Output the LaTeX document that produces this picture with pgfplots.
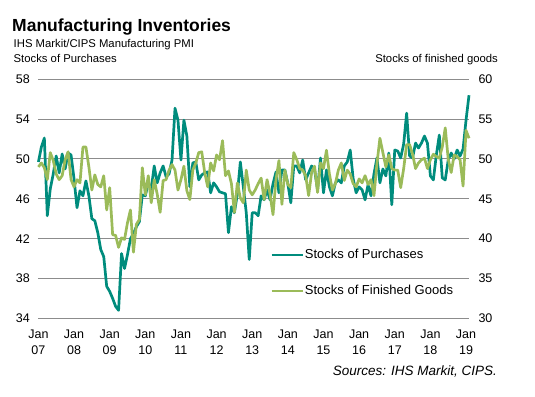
\documentclass[border=0pt]{standalone}
\usepackage{fontspec}
\setmainfont{Liberation Sans}
\usepackage{pgfplots}
\usepackage{pgfplotstable}
\pgfplotsset{compat=1.18}
\definecolor{tealc}{RGB}{0,140,125}
\definecolor{olivec}{RGB}{155,187,89}
\definecolor{gridc}{RGB}{140,140,140}
\pgfplotstableread{
m sp fg
0 49.7 49.0
1 51.2 49.5
2 52.1 48.9
3 44.3 47.4
4 47.0 50.8
5 48.5 49.8
6 50.3 48.1
7 48.6 47.4
8 50.5 47.9
9 49.0 49.9
10 50.6 50.9
11 50.4 47.4
12 48.0 46.5
13 45.1 47.4
14 46.8 47.0
15 46.3 51.5
16 47.8 51.5
17 46.3 49.0
18 44.0 46.1
19 43.8 48.0
20 42.6 46.8
21 40.9 46.5
22 40.2 47.9
23 37.2 43.6
24 36.7 46.4
25 36.0 40.5
26 35.2 40.4
27 34.8 38.9
28 40.5 40.1
29 39.0 39.9
30 40.4 42.0
31 42.0 43.6
32 42.5 38.3
33 43.2 41.8
34 43.7 42.4
35 46.4 48.9
36 46.3 45.5
37 47.6 47.9
38 47.0 44.5
39 49.3 47.4
40 47.6 45.6
41 48.6 43.3
42 49.3 47.3
43 48.2 47.4
44 48.5 48.6
45 49.9 49.3
46 55.1 48.6
47 53.9 46.1
48 49.9 47.4
49 53.9 49.1
50 52.3 46.0
51 47.2 44.9
52 49.6 48.6
53 49.7 49.5
54 47.9 50.8
55 48.4 50.9
56 48.6 48.3
57 48.7 46.5
58 46.6 49.5
59 47.6 48.5
60 47.2 50.5
61 46.7 49.9
62 46.6 52.3
63 46.5 47.9
64 42.6 48.5
65 45.2 46.9
66 44.6 43.3
67 46.5 47.0
68 49.7 45.1
69 47.2 44.5
70 44.6 48.6
71 39.9 46.1
72 44.6 45.5
73 44.6 46.1
74 44.3 46.9
75 46.3 47.6
76 45.9 44.9
77 46.9 47.4
78 45.9 45.6
79 47.5 43.0
80 48.7 47.4
81 46.6 49.8
82 48.9 44.3
83 48.9 48.6
84 47.5 46.8
85 45.6 46.4
86 49.3 50.8
87 49.3 49.9
88 48.6 48.8
89 49.9 48.6
90 47.9 47.9
91 48.6 45.4
92 49.3 48.3
93 48.9 49.1
94 46.9 45.8
95 50.1 49.5
96 46.6 48.8
97 48.9 51.1
98 47.2 48.1
99 46.3 46.1
100 47.6 46.9
101 47.9 48.6
102 47.6 49.5
103 49.3 47.3
104 49.7 48.6
105 50.9 48.1
106 48.0 46.9
107 46.6 46.5
108 47.2 47.5
109 46.9 47.0
110 45.9 47.9
111 47.4 46.8
112 46.3 47.4
113 48.5 45.4
114 50.1 49.4
115 47.6 52.6
116 49.0 50.8
117 48.3 49.0
118 50.6 50.5
119 45.4 48.8
120 50.9 48.6
121 50.8 48.6
122 50.1 46.4
123 51.5 48.8
124 54.6 51.8
125 50.3 51.8
126 50.1 50.6
127 51.6 48.8
128 51.1 49.5
129 51.6 49.9
130 52.3 50.1
131 51.6 48.8
132 48.3 49.9
133 47.9 50.6
134 50.4 50.3
135 52.4 50.1
136 48.1 51.5
137 47.9 53.9
138 49.9 50.0
139 50.6 48.3
140 50.0 50.5
141 50.9 50.3
142 50.3 49.9
143 51.0 46.6
144 53.9 53.6
145 56.4 52.6
}\datatable
\begin{document}
\begin{tikzpicture}
\useasboundingbox (0pt,0pt) rectangle (535pt,-396pt);
\node[anchor=base west, inner sep=0pt, font=\fontsize{17.5}{20}\selectfont\bfseries] at (12pt,-31.5pt) {Manufacturing Inventories};
\node[anchor=base west, inner sep=0pt, font=\fontsize{11.3}{13}\selectfont] at (13.5pt,-48pt) {IHS Markit/CIPS Manufacturing PMI};
\node[anchor=base west, inner sep=0pt, font=\fontsize{11.3}{13}\selectfont] at (13.5pt,-63pt) {Stocks of Purchases};
\node[anchor=base east, inner sep=0pt, font=\fontsize{11.3}{13}\selectfont] at (498pt,-63pt) {Stocks of finished goods};
\node[anchor=base east, inner sep=0pt, font=\fontsize{13.5}{16}\selectfont\itshape] at (497pt,-375.5pt) {Sources: IHS Markit, CIPS.};
\begin{axis}[
  at={(38.4pt,-318.3pt)}, anchor=south west,
  width=430.6pt, height=239pt, scale only axis,
  xmin=0, xmax=145, ymin=34, ymax=58,
  axis x line*=bottom, axis y line*=left, separate axis lines,
  x axis line style={draw=gridc, line width=1pt, -},
  y axis line style={draw=none},
  ytick={34,38,...,58},
  ymajorgrids, grid style={draw=gridc, line width=1pt},
  ytick style={draw=none},
  xtick={0,12,...,144},
  xticklabels={Jan\\07,Jan\\08,Jan\\09,Jan\\10,Jan\\11,Jan\\12,Jan\\13,Jan\\14,Jan\\15,Jan\\16,Jan\\17,Jan\\18,Jan\\19},
  xticklabel style={align=center, font=\fontsize{12.5}{16.5}\selectfont, yshift=-8pt},
  xtick style={draw=none},
  extra x ticks={0,24,...,144}, extra x tick labels={},
  extra x tick style={tick style={draw=gridc, line width=1pt}, major tick length=4pt, tick align=outside, grid=none},
  yticklabel style={font=\fontsize{12.5}{15}\selectfont, xshift=-5pt},
  /pgf/number format/assume math mode=true,
  clip=false,
]
\addplot[tealc, line width=2.7pt, line join=round] table[x=m, y=sp] {\datatable};
\end{axis}
\begin{axis}[
  at={(38.4pt,-318.3pt)}, anchor=south west,
  width=430.6pt, height=239pt, scale only axis,
  xmin=0, xmax=145, ymin=30, ymax=60,
  hide x axis,
  axis y line*=right,
  y axis line style={draw=none},
  ytick={30,35,...,60},
  ytick style={draw=none},
  yticklabel style={font=\fontsize{12.5}{15}\selectfont, anchor=west, xshift=6pt},
  /pgf/number format/assume math mode=true,
  clip=false,
  legend style={draw=none, fill=none, at={(0.5379,0.19)}, anchor=west, inner sep=0pt,
     font=\fontsize{13}{15}\selectfont, row sep=21pt, nodes={inner xsep=1pt}},
  legend cell align=left,
  legend image code/.code={\draw[#1] (0pt,0pt) -- (31pt,0pt);},
]
\addlegendimage{tealc, line width=2.7pt}
\addlegendentry{Stocks of Purchases}
\addplot[olivec, line width=2.7pt, line join=round] table[x=m, y=fg] {\datatable};
\addlegendentry{Stocks of Finished Goods}
\end{axis}
\end{tikzpicture}
\end{document}
